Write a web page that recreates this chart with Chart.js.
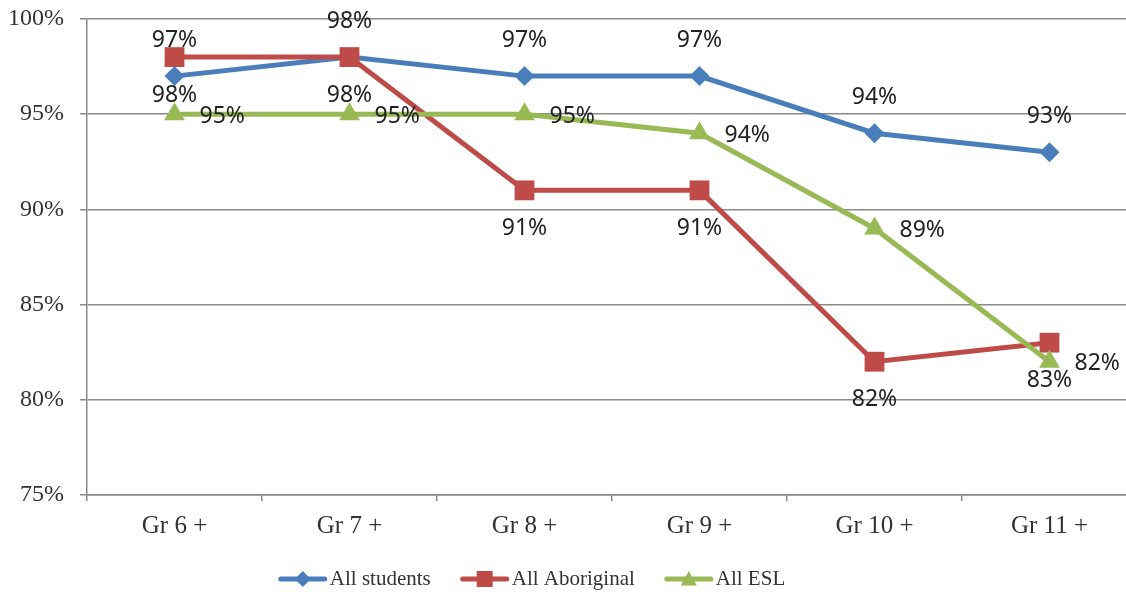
<!DOCTYPE html>
<html>
<head>
<meta charset="utf-8">
<script src="https://cdn.jsdelivr.net/npm/chart.js@4/dist/chart.umd.min.js"></script>
<style>
  html, body { margin: 0; padding: 0; background: #fff; overflow: hidden; }
  canvas { display: block; }
</style>
</head>
<body>
<canvas id="grad-chart" width="1140" height="594"></canvas>
<script>
// Cohort completion rates by grade
const grades = ['Gr 6 +', 'Gr 7 +', 'Gr 8 +', 'Gr 9 +', 'Gr 10 +', 'Gr 11 +']
const allStudents = [97, 98, 97, 97, 94, 93]
const allAboriginal = [98, 98, 91, 91, 82, 83]
const allEsl = [95, 95, 95, 94, 89, 82]
const yTicks = [75, 80, 85, 90, 95, 100]

const SERIF = '"Liberation Serif", "DejaVu Serif", serif'
const SANS = '"Noto Sans", "Open Sans", sans-serif'
const GRID = '#8a8a8a'
const TEXT = '#333333'

// Value labels: each series sets where its numbers sit relative to the point
const valueLabels = {
  id: 'valueLabels',
  afterDatasetsDraw(chart) {
    const ctx = chart.ctx
    ctx.save()
    ctx.font = '23px ' + SANS
    ctx.fillStyle = '#222222'
    ctx.textBaseline = 'middle'
    chart.data.datasets.forEach((ds, i) => {
      const meta = chart.getDatasetMeta(i)
      const pos = ds.labelPos
      ctx.textAlign = pos.align
      meta.data.forEach((pt, j) => {
        ctx.fillText(ds.data[j] + '%', pt.x + pos.dx, pt.y + pos.dy)
      })
    })
    ctx.restore()
  },
}

function drawMarker(ctx, style, x, y, s) {
  ctx.beginPath()
  if (style === 'rectRot') {
    ctx.moveTo(x, y - s)
    ctx.lineTo(x + s, y)
    ctx.lineTo(x, y + s)
    ctx.lineTo(x - s, y)
  } else if (style === 'rect') {
    ctx.rect(x - s, y - s, s * 2, s * 2)
  } else {
    ctx.moveTo(x, y - s)
    ctx.lineTo(x + s, y + s * 0.8)
    ctx.lineTo(x - s, y + s * 0.8)
  }
  ctx.closePath()
  ctx.fill()
}

// Legend along the bottom: line + marker, then the series name
const bottomLegend = {
  id: 'bottomLegend',
  afterDraw(chart) {
    const ctx = chart.ctx
    const lineW = 48
    const gap = 3
    const spacing = 30
    const cx = 532
    const cy = 579
    ctx.save()
    ctx.font = '21px ' + SERIF
    const items = chart.data.datasets.map((ds) => ({ ds, w: ctx.measureText(ds.label).width }))
    const total = items.reduce((sum, it) => sum + lineW + gap + it.w, 0) + spacing * (items.length - 1)
    let x = cx - total / 2
    items.forEach(({ ds, w }) => {
      ctx.strokeStyle = ds.borderColor
      ctx.fillStyle = ds.borderColor
      ctx.lineWidth = 5
      ctx.lineCap = 'round'
      ctx.beginPath()
      ctx.moveTo(x + 2, cy)
      ctx.lineTo(x + lineW - 2, cy)
      ctx.stroke()
      drawMarker(ctx, ds.pointStyle, x + lineW / 2, cy, 8)
      ctx.fillStyle = TEXT
      ctx.textAlign = 'left'
      ctx.textBaseline = 'middle'
      ctx.fillText(ds.label, x + lineW + gap, cy)
      x += lineW + gap + w + spacing
    })
    ctx.restore()
  },
}

const canvas = document.getElementById('grad-chart')
new Chart(canvas, {
  type: 'line',
  data: {
    labels: grades,
    datasets: [
      {
        label: 'All students',
        data: allStudents,
        borderColor: '#4a7ebb',
        backgroundColor: '#4a7ebb',
        borderWidth: 5,
        pointStyle: 'rectRot',
        pointRadius: 10,
        pointBorderWidth: 0,
        order: 2,
        labelPos: { dx: 0, dy: -36, align: 'center' },
      },
      {
        label: 'All Aboriginal',
        data: allAboriginal,
        borderColor: '#be4b48',
        backgroundColor: '#be4b48',
        borderWidth: 5,
        pointStyle: 'rect',
        pointRadius: 14,
        pointBorderWidth: 0,
        order: 1,
        labelPos: { dx: 0, dy: 38, align: 'center' },
      },
      {
        label: 'All ESL',
        data: allEsl,
        borderColor: '#98b954',
        backgroundColor: '#98b954',
        borderWidth: 5,
        pointStyle: 'triangle',
        pointRadius: 12,
        pointBorderWidth: 0,
        order: 0,
        labelPos: { dx: 25, dy: 2, align: 'left' },
      },
    ],
  },
  options: {
    responsive: false,
    animation: false,
    events: [],
    layout: {
      autoPadding: false,
      padding: { top: 19, right: 3, left: 0, bottom: 0 },
    },
    elements: {
      line: { tension: 0 },
    },
    scales: {
      x: {
        offset: true,
        afterFit: (scale) => {
          scale.height = 99
          scale.paddingLeft = 0
          scale.paddingRight = 0
        },
        grid: {
          offset: true,
          drawOnChartArea: false,
          drawTicks: true,
          tickLength: 6,
          color: GRID,
          lineWidth: 1.5,
        },
        border: { display: true, color: GRID, width: 1.5 },
        ticks: {
          color: TEXT,
          padding: 10,
          maxRotation: 0,
          font: { family: SERIF, size: 25 },
        },
      },
      y: {
        min: 75,
        max: 100,
        afterFit: (scale) => {
          scale.width = 87
          scale.paddingTop = 0
          scale.paddingBottom = 0
        },
        afterBuildTicks: (scale) => { scale.ticks = yTicks.map((v) => ({ value: v })) },
        grid: {
          color: GRID,
          lineWidth: 1.5,
          drawTicks: true,
          tickLength: 7,
        },
        border: { display: true, color: GRID, width: 1.5 },
        ticks: {
          color: TEXT,
          padding: 16,
          font: { family: SERIF, size: 24 },
          callback: (v) => v + '%',
        },
      },
    },
    plugins: {
      legend: { display: false },
      tooltip: { enabled: false },
    },
  },
  plugins: [valueLabels, bottomLegend],
})
</script>
</body>
</html>
